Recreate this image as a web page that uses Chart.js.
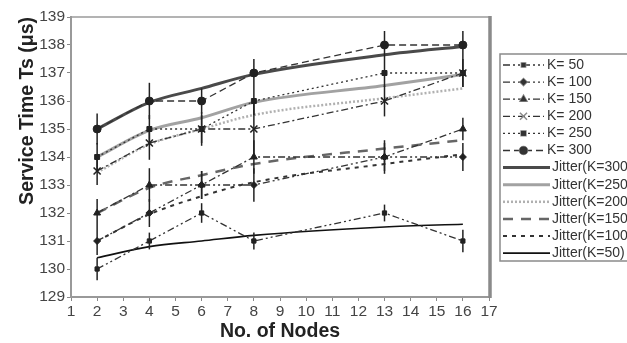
<!DOCTYPE html>
<html>
<head>
<meta charset="utf-8">
<script src="https://cdn.jsdelivr.net/npm/chart.js@4"></script>
<style>
  html, body { margin: 0; padding: 0; background: #fff; }
  #wrap { width: 627px; height: 343px; }
</style>
</head>
<body>
<div id="wrap"><canvas id="chart" width="627" height="343"></canvas></div>
<script>
// Service time vs number of nodes, measured (K=...) and jitter model curves

const nodes = [2, 4, 6, 8, 13, 16];

const k50 = [130, 131, 132, 131, 132, 131];
const k100 = [131, 132, 133, 133, 134, 134];
const k150 = [132, 133, 133, 134, 134, 135];
const k200 = [133.5, 134.5, 135, 135, 136, 137];
const k250 = [134, 135, 135, 136, 137, 137];
const k300 = [135, 136, 136, 137, 138, 138];

// half length of the vertical error bars
const errK50 = [0.4, 0.3, 0.35, 0.3, 0.3, 0.4];
const errK100 = [0.5, 0.5, 0.5, 0.6, 0.5, 0.5];
const errK150 = [0.5, 0.6, 0.5, 0.6, 0.6, 0.4];
const errK200 = [0.5, 0.6, 0.6, 0.9, 0.55, 0.5];
const errK250 = [0.5, 0.5, 0.5, 0.5, 0.5, 0.5];
const errK300 = [0.55, 0.65, 0.45, 0.5, 0.5, 0.5];

const jit300 = [135, 135.95, 136.45, 136.95, 137.65, 137.95];
const jit250 = [134, 134.95, 135.4, 135.95, 136.55, 136.95];
const jit200 = [133.45, 134.45, 135.0, 135.5, 136.1, 136.45];
const jit150 = [132, 132.9, 133.35, 133.75, 134.3, 134.6];
const jit100 = [131, 131.95, 132.6, 133.1, 133.75, 134.1];
const jit50 = [130.4, 130.8, 131.0, 131.2, 131.5, 131.6];

const xTicks = [1, 17];
const yTicks = [129, 139];

const FONT = "'Liberation Sans', Arial, sans-serif";

function pts(arr) {
    return nodes.map((x, i) => ({ x: x, y: arr[i] }));
}

function measured(label, arr, err, dash, style, radius) {
    return {
        label: label,
        data: pts(arr),
        errors: err,
        borderColor: '#333',
        backgroundColor: '#222',
        borderWidth: 1.3,
        borderDash: dash,
        pointStyle: style,
        pointRadius: radius,
        pointBorderColor: '#222',
        pointBorderWidth: style === 'crossRot' ? 1.6 : 1,
        tension: 0
    };
}

function jitter(label, arr, color, width, dash) {
    return {
        label: label,
        data: pts(arr),
        borderColor: color,
        borderWidth: width,
        borderDash: dash,
        pointRadius: 0,
        cubicInterpolationMode: 'monotone'
    };
}

const datasets = [
    measured('K= 50', k50, errK50, [7, 3, 2, 3, 2, 3], 'rect', 3),
    measured('K= 100', k100, errK100, [7, 3, 2, 3, 2, 3], 'rectRot', 3.5),
    measured('K= 150', k150, errK150, [7, 3, 2, 3], 'triangle', 4),
    measured('K= 200', k200, errK200, [7, 3, 2, 3], 'crossRot', 5),
    measured('K= 250', k250, errK250, [2, 3], 'rect', 3.5),
    measured('K= 300', k300, errK300, [7, 4], 'circle', 4),
    jitter('Jitter(K=300)', jit300, '#4a4a4a', 3, []),
    jitter('Jitter(K=250)', jit250, '#a2a2a2', 3, []),
    jitter('Jitter(K=200)', jit200, '#b0b0b0', 2.5, [2, 2]),
    jitter('Jitter(K=150)', jit150, '#666', 2.5, [10, 8]),
    jitter('Jitter(K=100)', jit100, '#333', 2, [4, 5]),
    jitter('Jitter(K=50)', jit50, '#111', 1.6, [])
];

// vertical error bars through the measured points
const errorBars = {
    id: 'errorBars',
    afterDatasetsDraw(chart) {
        const ctx = chart.ctx;
        const xs = chart.scales.x, ys = chart.scales.y;
        ctx.save();
        ctx.strokeStyle = '#222';
        ctx.lineWidth = 1.5;
        chart.data.datasets.forEach(ds => {
            if (!ds.errors) return;
            ds.data.forEach((p, i) => {
                const px = xs.getPixelForValue(p.x);
                ctx.beginPath();
                ctx.moveTo(px, ys.getPixelForValue(p.y + ds.errors[i]));
                ctx.lineTo(px, ys.getPixelForValue(p.y - ds.errors[i]));
                ctx.stroke();
            });
        });
        ctx.restore();
    }
};

// grey frame on top and right of the plot
const frame = {
    id: 'frame',
    beforeDatasetsDraw(chart) {
        const ctx = chart.ctx;
        const a = chart.chartArea;
        ctx.save();
        ctx.strokeStyle = '#9a9a9a';
        ctx.lineWidth = 1.5;
        ctx.beginPath();
        ctx.moveTo(a.left, a.top);
        ctx.lineTo(a.right, a.top);
        ctx.stroke();
        ctx.strokeStyle = '#8a8a8a';
        ctx.lineWidth = 3.5;
        ctx.beginPath();
        ctx.moveTo(a.right + 1, a.top - 1);
        ctx.lineTo(a.right + 1, a.bottom + 1);
        ctx.stroke();
        ctx.restore();
    }
};

// legend box at the right, running off the edge like the original
const sideLegend = {
    id: 'sideLegend',
    afterDraw(chart) {
        const ctx = chart.ctx;
        const left = 500, top = 54, bottom = 261;
        ctx.save();
        ctx.strokeStyle = '#8a8a8a';
        ctx.lineWidth = 1.5;
        ctx.strokeRect(left, top, 160, bottom - top);
        ctx.font = '14px ' + FONT;
        ctx.textBaseline = 'middle';
        ctx.fillStyle = '#333';
        chart.data.datasets.forEach((ds, i) => {
            const y = 65 + i * 17.1;
            const x0 = 503, x1 = ds.errors ? 544 : 550;
            ctx.save();
            ctx.strokeStyle = ds.borderColor;
            ctx.lineWidth = ds.borderWidth;
            ctx.setLineDash(ds.borderDash || []);
            ctx.beginPath();
            ctx.moveTo(x0, y);
            ctx.lineTo(x1, y);
            ctx.stroke();
            ctx.restore();
            if (ds.errors) {
                Chart.helpers.drawPoint(ctx, {
                    pointStyle: ds.pointStyle,
                    radius: ds.pointRadius,
                    rotation: 0,
                    borderWidth: ds.pointBorderWidth
                }, (x0 + x1) / 2, y);
                ctx.fill();
                ctx.fillText(ds.label, 547, y);
            } else {
                ctx.fillText(ds.label, 552, y);
            }
        });
        ctx.restore();
    }
};

new Chart(document.getElementById('chart'), {
    type: 'line',
    data: { datasets: datasets },
    plugins: [frame, errorBars, sideLegend],
    options: {
        responsive: false,
        animation: false,
        events: [],
        layout: { padding: { left: 0, right: 138, top: 17, bottom: 0 } },
        plugins: {
            legend: { display: false },
            tooltip: { enabled: false }
        },
        scales: {
            x: {
                type: 'linear',
                min: xTicks[0],
                max: xTicks[1],
                afterFit(s) { s.height = 46; },
                ticks: {
                    stepSize: 1,
                    color: '#444',
                    font: { family: FONT, size: 15.5 },
                    padding: 1
                },
                grid: { drawOnChartArea: false, tickLength: 4, color: '#888' },
                border: { color: '#999', width: 2 },
                title: {
                    display: true,
                    text: 'No. of Nodes',
                    color: '#222',
                    font: { family: FONT, size: 19.5, weight: 'bold' },
                    padding: { top: -4, bottom: 0 }
                }
            },
            y: {
                type: 'linear',
                min: yTicks[0],
                max: yTicks[1],
                afterFit(s) { s.width = 71; },
                ticks: {
                    stepSize: 1,
                    color: '#444',
                    font: { family: FONT, size: 15.5 },
                    padding: 2
                },
                grid: { drawOnChartArea: false, tickLength: 4, color: '#888' },
                border: { color: '#999', width: 2 },
                title: {
                    display: true,
                    align: 'end',
                    text: 'Service Time Ts (\u03bcs)',
                    color: '#222',
                    font: { family: FONT, size: 19.5, weight: 'bold' },
                    padding: { top: 16, bottom: 0 }
                }
            }
        }
    }
});
</script>
</body>
</html>
